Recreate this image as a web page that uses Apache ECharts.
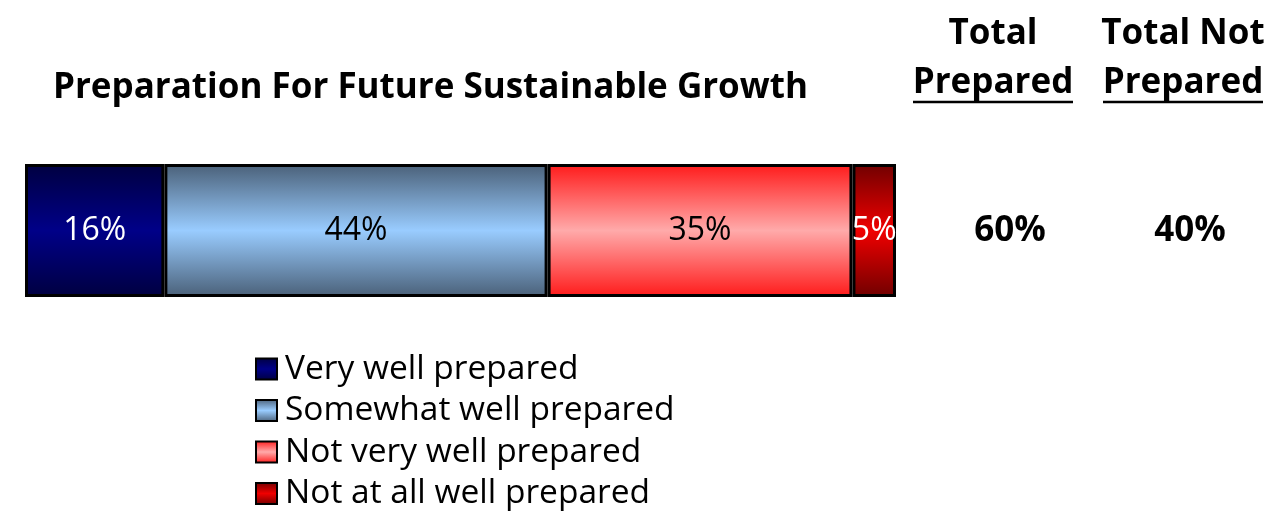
<!DOCTYPE html>
<html>
<head>
<meta charset="utf-8">
<script src="https://cdn.jsdelivr.net/npm/echarts@6/dist/echarts.min.js"></script>
<style>
  html, body { margin: 0; padding: 0; background: #ffffff; }
  #chart { width: 1276px; height: 511px; }
</style>
</head>
<body>
<div id="chart"></div>
<script>
// Survey categories and their shares (percent)
const categories = ['Very well prepared', 'Somewhat well prepared', 'Not very well prepared', 'Not at all well prepared'];
const values = [16, 44, 35, 5];
const barRow = ['Preparation'];
const titleText = 'Preparation For Future Sustainable Growth';

// Gradient stops per category: edge colour and centre colour
const edgeColors = ['#000040', '#4a6078', '#ff1a1a', '#700000'];
const midColors = ['#000088', '#99ccff', '#ffaaaa', '#f00000'];
const labelColors = ['#ffffff', '#000000', '#000000', '#ffffff'];

const FONT = '"Open Sans", "Noto Sans", sans-serif';

const totalPrepared = values[0] + values[1];
const totalNotPrepared = values[2] + values[3];

function vGrad(edge, mid) {
  return new echarts.graphic.LinearGradient(0, 0, 0, 1, [
    { offset: 0, color: edge },
    { offset: 0.5, color: mid },
    { offset: 1, color: edge }
  ]);
}

const series = categories.map((name, i) => ({
  name: name,
  type: 'bar',
  stack: 'total',
  barWidth: '100%',
  data: [values[i]],
  itemStyle: {
    color: vGrad(edgeColors[i], midColors[i]),
    borderColor: '#000000',
    borderWidth: 3
  },
  label: {
    show: true,
    position: 'inside',
    formatter: '{c}%',
    color: labelColors[i],
    fontFamily: FONT,
    fontSize: 32,
    overflow: 'none'
  },
  emphasis: { disabled: true }
}));

const chart = echarts.init(document.getElementById('chart'), null, { renderer: 'canvas' });

const headStyle = { fontFamily: FONT, fontWeight: 'bold', fontSize: 35, fill: '#000000', align: 'center', verticalAlign: 'middle' };

chart.setOption({
  animation: false,
  backgroundColor: '#ffffff',
  grid: { left: 25, right: 380, top: 164, height: 133, containLabel: false },
  xAxis: { type: 'value', min: 0, max: 100, show: false },
  yAxis: { type: 'category', data: barRow, show: false },
  legend: {
    orient: 'vertical',
    left: 255,
    top: 352,
    height: 170,
    padding: 0,
    itemWidth: 21,
    itemHeight: 21,
    itemGap: 7.5,
    icon: 'rect',
    data: categories,
    textStyle: { fontFamily: FONT, fontSize: 33.5, lineHeight: 34, color: '#000000', padding: [0, 0, 0, 3] },
    selectedMode: false
  },
  graphic: [
    { type: 'text', x: 53, y: 88, style: { text: titleText, fontFamily: FONT, fontWeight: 'bold', fontSize: 35, fill: '#000000', align: 'left', verticalAlign: 'middle' } },
    { type: 'text', x: 993, y: 34, style: Object.assign({ text: 'Total' }, headStyle) },
    { type: 'text', x: 993, y: 83, style: Object.assign({ text: 'Prepared' }, headStyle) },
    { type: 'line', shape: { x1: 913, y1: 102, x2: 1073, y2: 102 }, style: { stroke: '#000000', lineWidth: 2.5 } },
    { type: 'text', x: 1183, y: 34, style: Object.assign({ text: 'Total Not' }, headStyle) },
    { type: 'text', x: 1183, y: 83, style: Object.assign({ text: 'Prepared' }, headStyle) },
    { type: 'line', shape: { x1: 1103, y1: 102, x2: 1263, y2: 102 }, style: { stroke: '#000000', lineWidth: 2.5 } },
    { type: 'text', x: 1010, y: 231, style: Object.assign({ text: totalPrepared + '%' }, headStyle) },
    { type: 'text', x: 1190, y: 231, style: Object.assign({ text: totalNotPrepared + '%' }, headStyle) }
  ],
  series: series
});
</script>
</body>
</html>
